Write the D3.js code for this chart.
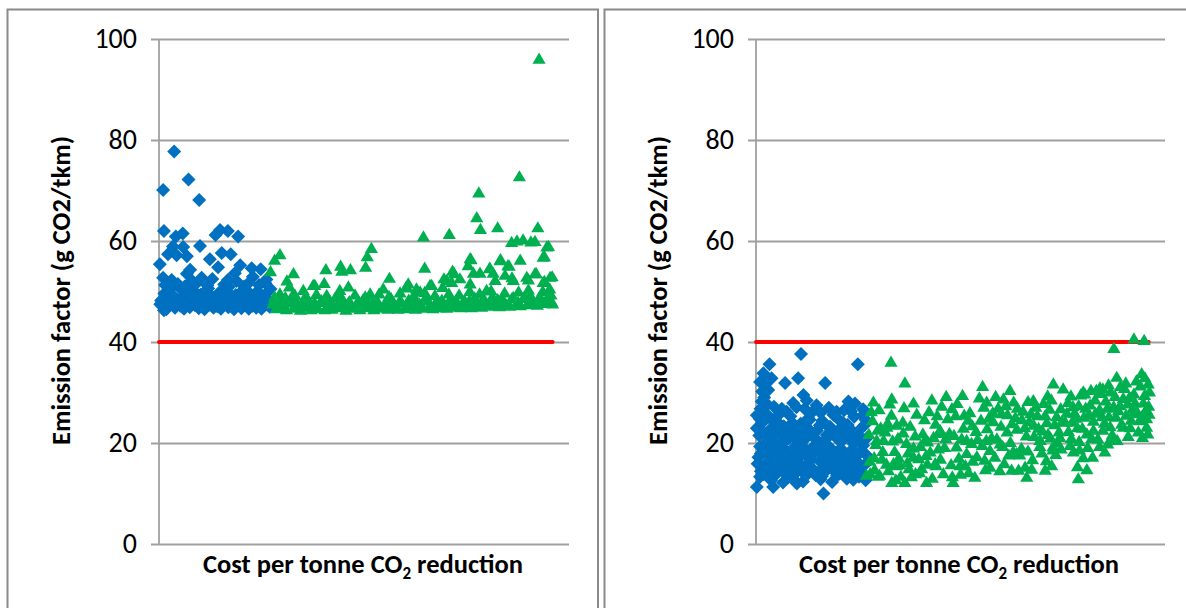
<!DOCTYPE html>
<html>
<head>
<meta charset="utf-8">
<script src="https://cdn.jsdelivr.net/npm/d3@7"></script>
<style>
  html, body { margin: 0; padding: 0; background: #ffffff; }
  svg { display: block; font-family: Carlito, Calibri, Lato, "Open Sans", sans-serif; }
</style>
</head>
<body>
<svg id="chart" width="1186" height="608"></svg>
<script>
// ---- data -------------------------------------------------------------
// y axis ticks (g CO2/tkm) and the 40 g target line
const yTicks = [0, 20, 40, 60, 80, 100];
const threshold = 40;
const thresholdSpan = [0, 96];           // cost range covered by the target line
const costDomain = [0, 100];              // relative cost per tonne CO2 reduction

// Left chart: blue options [cost, emission factor]
const leftDiamonds = [
  [3.7,77.7],[7.2,72.2],[1.0,70.1],[9.8,68.1],[1.2,62.0],[4.1,60.9],[5.8,61.5],[13.8,61.2],
  [14.9,62.2],[16.8,62.0],[19.3,60.9],[3.4,58.9],[5.9,58.8],[10.0,59.0],[2.2,57.4],[4.3,57.2],
  [6.8,57.0],[15.3,57.6],[17.5,57.4],[0.2,55.4],[12.4,56.4],[7.6,54.3],[14.4,54.8],[19.8,55.2],
  [22.6,54.6],[24.8,54.4],[6.8,53.5],[10.4,52.7],[18.5,53.6],[1.0,52.7],[3.1,52.3],[16.8,52.3],
  [22.9,52.9],[25.9,51.7],
  [0.5,48.2],[0.9,47.1],[1.3,49.6],[1.8,46.5],[2.1,48.8],[2.6,50.4],[3.0,47.6],[3.5,49.1],
  [3.9,46.8],[4.4,48.3],[4.8,50.9],[5.2,47.2],[5.7,48.9],[6.1,46.6],[6.6,49.7],[7.0,47.9],
  [7.5,46.9],[7.9,48.6],[8.4,50.2],[8.8,47.3],[9.3,48.1],[9.7,46.7],[10.2,49.4],[10.6,47.8],
  [11.1,46.5],[11.5,48.7],[12.0,50.6],[12.4,47.4],[12.9,49.0],[13.3,46.8],[13.8,48.3],[14.2,47.1],
  [14.7,49.8],[15.1,46.6],[15.6,48.5],[16.0,47.6],[16.5,50.1],[16.9,46.9],[17.4,48.9],[17.8,47.3],
  [18.3,46.5],[18.7,49.3],[19.2,47.7],[19.6,48.4],[20.1,46.7],[20.5,50.3],[21.0,47.5],[21.4,48.8],
  [21.9,46.6],[22.3,49.5],[22.8,47.2],[23.2,48.1],[23.7,46.8],[24.1,50.0],[24.6,47.9],[25.0,46.6],
  [25.5,48.6],[25.9,49.4],[26.4,47.4],[26.8,48.2],[27.2,50.5],
  [1.5,51.3],[2.9,52.0],[4.6,51.5],[6.3,51.0],[8.0,52.2],[9.1,51.6],[11.8,51.2],[13.0,52.5],
  [15.9,51.4],[17.0,50.9],[18.9,52.1],[20.8,51.0],[22.0,51.8],[24.4,51.3],[26.2,52.4],[0.3,47.5],
  [3.3,47.9],[5.9,48.0],[8.6,49.0],[12.6,48.4],[15.4,49.2],[19.9,48.9],[23.5,49.6],[25.3,47.3],
  [27.0,47.0],[1.2,46.3]
];

// Left chart: green options [cost, emission factor]
const leftTriangles = [
  [92.7,96.1],[87.9,72.8],[78.0,69.6],[77.5,64.7],[78.4,62.4],[82.6,62.7],[92.4,62.7],[70.8,61.4],
  [64.5,60.9],[86.0,59.8],[87.3,60.1],[88.8,60.3],[90.7,59.9],[91.7,60.0],[95.0,59.0],[94.0,57.0],
  [88.1,56.3],[83.3,56.4],[76.1,56.4],[80.7,54.7],[85.4,55.1],[95.9,53.0],[92.0,53.6],[86.1,52.8],
  [94.0,52.1],[90.1,52.4],[69.5,52.6],[72.0,53.6],[51.8,58.6],[50.8,57.0],[50.4,54.9],[40.7,54.4],
  [44.3,55.1],[46.7,54.4],[29.5,57.4],[28.2,56.3],[27.2,54.0],[32.8,53.6],[31.2,52.2],[56.2,52.7],
  [64.8,54.7],[60.2,50.8],[69.2,50.9],[31.8,51.0],[40.3,51.7],[38.0,51.3],[44.6,54.1],[66.5,51.3],
  [70.2,52.3],[71.6,54.1],[73.4,52.6],[75.9,56.6],[75.4,55.2],[76.7,53.7],[78.3,53.7],[75.9,51.6],
  [80.6,54.6],[60.8,51.6],[62.8,50.6],[81.5,53.7],[83.2,56.2],[85.1,55.2],[89.7,52.9],[91.7,53.6],
  [93.7,51.9],[95.4,52.9],[94.6,58.9],[93.7,56.9],[86.4,52.3],[84.4,53.3],[82.0,52.3],[79.9,50.3],
  [71.4,51.9],[66.1,51.3],[63.7,50.0],[60.4,51.0],[54.7,50.6],[51.5,49.6],[46.2,51.0],[44.1,50.3],
  [40.9,49.3],[37.6,51.3],[35.2,50.3],[32.8,49.6],[29.5,49.6],
  [27.8,47.6],[28.6,46.7],[29.4,48.5],[30.3,47.1],[31.1,46.5],[32.0,48.0],[32.8,46.8],[33.7,47.5],
  [34.5,46.4],[35.4,48.6],[36.2,47.0],[37.1,46.5],[37.9,47.9],[38.8,46.7],[39.6,48.3],[40.5,46.5],
  [41.3,47.4],[42.2,46.6],[43.0,48.8],[43.9,46.9],[44.7,47.6],[45.6,46.4],[46.4,48.1],[47.3,46.8],
  [48.1,47.3],[49.0,46.5],[49.8,48.5],[50.7,46.9],[51.5,47.6],[52.4,46.5],[53.2,48.2],[54.1,46.8],
  [54.9,47.4],[55.8,46.6],[56.6,48.7],[57.5,47.0],[58.3,46.6],[59.2,47.8],[60.0,46.7],[60.9,48.4],
  [61.7,47.1],[62.6,46.6],[63.4,47.7],[64.3,46.8],[65.1,48.9],[66.0,47.2],[66.8,46.7],[67.7,48.0],
  [68.5,46.9],[69.4,47.5],[70.2,46.8],[71.1,48.6],[71.9,47.0],[72.8,47.7],[73.6,46.9],[74.5,48.3],
  [75.3,47.2],[76.2,46.9],[77.0,48.8],[77.9,47.3],[78.7,47.0],[79.6,48.1],[80.4,47.2],[81.3,49.0],
  [82.1,47.5],[83.0,47.1],[83.8,48.4],[84.7,47.4],[85.5,47.2],[86.4,48.9],[87.2,47.6],[88.1,47.3],
  [88.9,48.7],[89.8,47.5],[90.6,49.2],[91.5,47.8],[92.3,47.4],[93.2,48.6],[94.0,47.7],[94.9,49.0],
  [95.7,48.1],[96.0,47.6],
  [28.2,49.0],[30.8,48.9],[33.2,49.3],[35.9,49.0],[38.4,49.5],[41.0,48.8],[44.3,49.1],[47.8,49.4],
  [50.3,49.0],[53.7,49.6],[56.1,49.1],[58.8,49.8],[62.1,49.2],[64.8,49.9],[67.3,49.3],[70.7,49.6],
  [73.2,49.4],[75.8,50.1],[78.2,49.6],[81.0,50.2],[84.3,49.8],[87.7,50.0],[90.1,50.4],[93.6,50.1],
  [95.3,50.6],
  [28.0,48.2],[29.8,47.3],[31.6,47.8],[33.3,48.1],[35.0,47.4],[36.7,48.0],[38.3,47.2],[40.0,47.9],
  [41.8,48.1],[43.5,47.3],[45.2,47.9],[46.9,47.4],[48.6,48.2],[50.2,47.3],[52.0,48.0],[53.6,47.3],
  [55.4,47.9],[57.0,47.3],[58.8,48.3],[60.5,47.5],[62.2,48.0],[63.9,47.4],[65.6,48.2],[67.3,47.6],
  [69.0,48.4],[70.6,47.6],[72.4,48.2],[74.0,47.7],[75.8,48.4],[77.4,47.9],[79.1,48.6],[80.8,47.9],
  [82.6,48.5],[84.2,48.0],[86.0,48.6],[87.6,48.0],[89.3,48.8],[91.0,48.3],[92.8,48.9],[94.5,48.3],
  [95.6,49.4]
];

// Right chart: blue options [cost, emission factor]
const rightDiamonds = [
  [11.0,37.6],[24.9,35.6],[3.3,35.6],[1.8,33.8],[1.0,32.1],[7.1,31.9],[10.3,32.8],[16.9,31.9],
  [3.0,30.5],[1.4,28.2],[11.6,29.5],[14.8,27.5],[9.1,27.9],[22.6,28.2],[19.7,26.2],[26.2,26.7],
  [7.5,26.2],[0.2,25.5],[0.2,22.9],[3.8,24.6],[12.8,24.9],[18.1,23.2],[1.0,19.3],[1.0,13.3],
  [0.2,11.3],[2.2,14.7],[4.2,11.3],[16.5,10.0],[10.0,12.0],[7.5,21.2],[14.0,21.2],[20.5,22.6],
  [23.8,12.7],[23.0,16.0],[21.9,13.3],[25.2,13.3],[1.2,14.4],
  [2.5,25.8],[5.3,24.1],[8.4,25.3],[10.9,23.8],[13.6,26.0],[16.2,24.4],[18.9,25.6],[21.3,24.0],
  [24.0,25.2],[26.6,23.6],[0.8,21.5],[3.4,22.6],[6.1,21.8],[9.2,22.9],[11.7,21.3],[14.9,22.5],
  [17.3,21.6],[20.0,22.4],[22.8,21.2],[25.5,22.7],[27.1,21.0],[1.9,19.6],[4.6,20.3],[7.0,18.8],
  [10.3,19.9],[12.5,18.5],[15.4,20.2],[18.2,19.0],[21.0,20.4],[23.5,18.7],[26.2,19.5],[0.6,17.2],
  [3.0,16.4],[5.8,17.7],[8.3,16.2],[11.0,17.5],[13.4,16.6],[16.5,17.9],[19.1,16.3],[21.9,17.4],
  [24.6,16.1],[27.0,17.6],[2.2,15.0],[4.9,13.8],[7.6,15.3],[9.8,14.1],[12.2,15.6],[14.6,13.6],
  [17.6,14.9],[20.4,13.9],[23.1,15.2],[25.9,14.0],[3.7,12.6],[6.6,12.2],[9.0,13.0],[11.5,12.4],
  [15.8,12.8],[18.6,12.3],[22.2,12.9],[26.4,13.4],[1.4,23.9],[4.0,18.0],[6.8,23.3],[9.6,17.0],
  [12.0,20.8],[13.1,24.6],[15.0,18.6],[17.9,23.0],[19.6,18.1],[22.4,23.6],[24.3,20.3],[25.1,17.8],
  [26.9,24.5],[3.2,20.8],[8.0,20.9],[10.6,15.9],[14.2,19.4],[16.8,15.2],[20.8,15.8],[23.8,19.9],
  [5.5,14.9],[7.9,13.2],[12.8,14.0],[19.0,14.6],[0.4,15.9],[2.8,27.6],[4.4,27.2],[6.3,26.8],
  [9.9,27.1],[12.4,28.4],[17.8,27.0],[21.5,26.5],[24.2,27.8],[1.5,30.2],[2.0,29.0],
  [0.9,24.8],[2.0,22.0],[3.9,21.4],[5.0,22.9],[6.5,20.0],[7.8,22.2],[9.4,21.0],[10.8,22.0],
  [12.2,23.3],[13.8,22.0],[15.6,23.5],[16.9,20.6],[18.4,22.0],[19.8,20.9],[21.4,21.9],[23.0,22.8],
  [24.6,21.6],[26.0,20.8],[1.2,17.9],[2.6,18.3],[3.8,19.2],[5.2,19.0],[6.2,16.3],[7.4,17.3],
  [8.7,18.6],[10.0,17.6],[11.5,18.9],[12.9,17.2],[14.0,17.8],[15.6,16.4],[17.0,18.8],[18.0,16.9],
  [19.8,17.3],[20.7,18.9],[22.6,16.5],[23.9,17.3],[25.6,18.4],[26.7,15.8],[1.9,13.8],[3.4,14.8],
  [4.8,16.0],[6.4,14.5],[8.6,14.6],[9.6,15.9],[11.2,14.4],[13.6,15.1],[15.2,14.1],[16.1,13.4],
  [18.1,15.8],[19.8,13.6],[21.5,14.8],[22.8,14.0],[24.5,14.3],[26.8,12.6],[25.5,15.7],
  [2.3,31.6],[3.8,32.8],[1.1,26.8],[5.6,25.6],[8.9,24.0],[11.9,26.8],[15.8,26.0],[20.5,24.4],
  [23.2,26.3],[26.0,25.4]
];

// Right chart: green options [cost, emission factor]
const rightTriangles = [
  [92.4,40.7],[94.9,40.4],[87.5,38.8],[33.0,36.1],[36.4,32.0],[55.4,31.3],[88.2,33.1],[94.3,33.8],
  [95.9,31.8],[72.7,31.8],[75.1,30.8],[80.0,30.2],[84.8,30.8],[62.1,30.5],[46.5,29.3],[50.5,29.5],
  [43.0,28.6],[33.2,28.8],[28.7,28.2],[38.5,28.0],[56.4,28.2],[60.5,28.8],[67.8,28.5],[78.8,13.0],
  [78.6,15.4],[80.9,14.8],[85.3,18.3],[82.3,17.3],[94.5,21.2],[95.5,23.2],[87.4,20.9],[77.6,18.3],
  [72.3,15.6],[70.7,14.7],[66.2,13.3],[65.8,15.3],[62.5,14.7],[57.2,15.3],[53.5,13.3],[48.2,12.3],
  [45.8,14.0],[41.7,12.3],[36.4,12.3],[33.2,12.3],[27.9,14.0],[27.0,13.7],[30.2,13.7],[34.4,15.6],
  [38.5,17.3],[40.5,15.0],[43.8,16.0],[49.9,15.6],[29.5,20.6],[34.4,23.6],[32.0,23.2],[41.3,20.6],
  [45.0,22.6],[51.5,20.6],[59.7,19.9],[63.7,18.0],[69.4,20.6],[74.3,21.2],[82.5,22.6],[89.8,23.2],
  [92.2,25.9],[87.4,27.2],[95.4,26.7],[79.1,18.7],[72.6,18.7],[69.4,19.4],[80.4,29.8],[84.1,31.0],
  [28.5,24.5],[29.3,19.8],[30.1,26.7],[30.8,16.9],[31.6,22.3],[32.4,14.6],[33.1,25.6],[33.9,18.4],
  [34.7,21.0],[35.4,13.5],[36.2,27.1],[37.0,16.2],[37.7,23.4],[38.5,19.1],[39.3,25.8],[40.0,14.2],
  [40.8,21.9],[41.6,17.6],[42.3,26.3],[43.1,13.1],[43.9,23.8],[44.6,18.9],[45.4,27.4],[29.0,14.8],
  [31.2,20.6],[33.6,16.0],[35.9,24.2],[38.0,13.4],[39.8,17.0],[42.0,20.3],[44.0,15.6],[27.6,21.8],
  [28.9,17.2],[32.7,27.8],[36.8,20.0],[41.2,24.7],[34.2,12.8],[37.4,15.0],[44.9,22.0],[30.5,23.1],
  [46.1,19.2],[46.9,24.9],[47.7,15.8],[48.4,21.6],[49.2,27.9],[50.0,13.9],[50.7,23.0],[51.5,18.0],
  [52.3,26.1],[53.0,16.5],[53.8,22.4],[54.6,29.0],[55.3,19.6],[56.1,14.8],[56.9,25.0],[57.6,21.1],
  [58.4,17.3],[59.2,27.0],[59.9,23.4],[60.7,16.0],[61.5,25.7],[62.2,20.2],[63.0,28.2],[63.8,22.8],
  [64.5,17.7],[65.3,26.4],[66.1,21.5],[66.8,24.3],[67.6,16.8],[68.4,27.2],[69.1,23.0],[69.9,18.1],
  [70.7,25.5],[71.4,21.8],[72.2,28.6],[73.0,23.7],[73.7,20.1],[74.5,26.9],[47.3,22.0],[49.6,17.1],
  [51.9,24.6],[54.2,20.8],[55.7,27.2],[58.0,24.3],[60.3,19.4],[62.6,23.9],[64.9,19.0],[67.2,25.9],
  [69.5,20.6],[71.8,26.8],[74.1,22.3],[48.8,25.5],[52.7,20.0],[57.2,18.6],[61.1,27.5],[65.7,23.1],
  [70.3,27.9],[73.3,17.8],[50.3,20.9],[56.5,22.9],[63.4,25.1],[68.0,21.4],[72.6,19.3],
  [75.6,24.2],[76.3,28.1],[77.1,21.0],[77.9,26.0],[78.6,23.1],[79.4,29.6],[80.2,25.2],[80.9,21.9],
  [81.7,27.6],[82.5,24.4],[83.2,30.5],[84.0,26.7],[84.8,22.6],[85.5,28.4],[86.3,25.3],[87.1,21.7],
  [87.8,29.3],[88.6,26.5],[89.4,23.8],[90.1,30.9],[90.9,27.8],[91.7,24.6],[92.4,29.8],[93.2,26.2],
  [94.0,31.4],[94.7,28.0],[95.5,24.9],[96.2,30.2],[76.8,19.6],[79.0,20.4],[81.1,19.2],[83.6,20.9],
  [86.0,19.9],[88.3,20.6],[91.0,21.4],[93.5,22.3],[95.8,21.9],[78.2,25.0],[80.6,27.0],[82.9,28.6],
  [85.2,24.0],[87.5,27.2],[89.8,28.9],[92.1,26.9],[94.4,25.4],[96.0,27.4],[77.5,27.3],[84.4,29.9],
  [89.1,31.3],[93.0,32.4],[95.1,33.0],[91.3,29.1],[86.7,30.2],
  [28.2,26.3],[29.7,22.6],[31.0,18.4],[32.2,24.0],[33.4,20.5],[34.9,17.1],[36.0,22.1],[37.2,18.1],
  [38.9,21.5],[40.2,19.4],[41.9,15.9],[43.4,21.2],[44.3,25.5],[45.1,16.9],[27.8,16.5],[29.9,13.5],
  [31.9,15.9],[35.1,15.8],[39.0,14.0],[42.6,18.3],
  [46.4,21.0],[47.9,26.9],[49.0,19.3],[50.9,25.6],[51.2,15.6],[52.9,23.5],[54.0,17.4],[55.0,24.6],
  [56.3,20.6],[57.9,26.1],[58.9,20.9],[60.0,25.9],[61.4,22.3],[62.9,18.4],[63.9,27.0],[65.0,24.7],
  [66.5,18.5],[67.9,23.6],[68.8,25.5],[70.0,22.5],[71.1,24.1],[72.0,21.1],[73.5,25.3],[74.8,24.3],
  [48.0,13.4],[52.0,14.2],[55.9,16.7],[59.6,14.6],[61.8,17.7],[64.2,14.7],[67.4,14.9],[71.0,16.6],
  [74.6,18.9],[58.6,29.3],[66.5,28.3],[71.3,29.4],
  [76.0,26.0],[77.3,24.2],[78.9,27.5],[79.8,23.0],[81.4,25.6],[82.1,21.0],[83.0,26.0],[84.6,25.3],
  [85.9,27.0],[86.6,23.3],[88.0,25.2],[89.0,27.5],[90.5,25.6],[91.5,23.1],[92.7,28.0],[93.8,24.5],
  [95.0,29.5],[96.1,25.8],[90.4,32.0],[86.2,31.6],[81.9,30.5],[77.0,29.4],[76.4,22.4],[80.0,17.2],
  [84.0,19.4]
];

// ---- drawing ----------------------------------------------------------
const COLORS = { blue: "#0070C0", green: "#00B050", red: "#FF0000", grid: "#a0a0a0", frame: "#8a8a8a" };

const svg = d3.select("#chart");

const diamondPath = "M0,-7L7,0L0,7L-7,0Z";
const trianglePath = "M0,-6.2L6.6,5L-6.6,5Z";

function drawPanel(opts) {
  const { frame, plot, diamonds, triangles, titleX } = opts;

  // chart frame
  svg.append("rect")
    .attr("x", frame.x).attr("y", frame.y)
    .attr("width", frame.w).attr("height", frame.h)
    .attr("fill", "#ffffff")
    .attr("stroke", COLORS.frame)
    .attr("stroke-width", 2);

  const x = d3.scaleLinear().domain(costDomain).range([plot.left, plot.right]);
  const y = d3.scaleLinear().domain([0, 100]).range([plot.bottom, plot.top]);

  // gridlines + tick labels
  const axis = d3.axisLeft(y)
    .tickValues(yTicks)
    .tickSize(-(plot.right - plot.left + 8))
    .tickPadding(14)
    .tickFormat(d3.format("d"));

  const gAxis = svg.append("g")
    .attr("transform", `translate(${plot.left - 8},0)`)
    .call(axis);
  gAxis.select(".domain").remove();
  gAxis.selectAll(".tick line")
    .attr("stroke", COLORS.grid)
    .attr("stroke-width", 1.8);
  gAxis.selectAll(".tick text")
    .attr("fill", "#000")
    .style("font-size", "28px")
    .style("font-family", "Carlito, Calibri, Lato, sans-serif");

  // vertical axis line
  svg.append("line")
    .attr("x1", plot.left).attr("x2", plot.left)
    .attr("y1", y(100)).attr("y2", y(0))
    .attr("stroke", COLORS.grid)
    .attr("stroke-width", 1.8);

  // target line
  svg.append("line")
    .attr("x1", x(thresholdSpan[0])).attr("x2", x(thresholdSpan[1]))
    .attr("y1", y(threshold)).attr("y2", y(threshold))
    .attr("stroke", COLORS.red)
    .attr("stroke-width", 4)
    .attr("stroke-linecap", "round");

  // blue options
  svg.append("g").selectAll("path")
    .data(diamonds)
    .join("path")
    .attr("d", diamondPath)
    .attr("transform", d => `translate(${x(d[0])},${y(d[1])})`)
    .attr("fill", COLORS.blue);

  // green options
  svg.append("g").selectAll("path")
    .data(triangles)
    .join("path")
    .attr("d", trianglePath)
    .attr("transform", d => `translate(${x(d[0])},${y(d[1])})`)
    .attr("fill", COLORS.green);

  // y axis title
  svg.append("text")
    .attr("transform", `translate(${opts.yTitleX},${(plot.top + plot.bottom) / 2 - 1}) rotate(-90)`)
    .attr("text-anchor", "middle")
    .attr("dominant-baseline", "central")
    .style("font-size", "26.5px")
    .style("font-weight", "bold")
    .text("Emission factor (g CO2/tkm)");

  // x axis title with subscript
  const t = svg.append("text")
    .attr("x", titleX).attr("y", 573)
    .attr("text-anchor", "middle")
    .style("font-size", "26.5px")
    .style("font-weight", "bold");
  t.append("tspan").text("Cost per tonne CO");
  t.append("tspan").attr("dy", 6).style("font-size", "17px").text("2");
  t.append("tspan").attr("dy", -6).text(" reduction");
}

drawPanel({
  frame: { x: 7.5, y: 9.5, w: 590.5, h: 620 },
  plot: { left: 159, right: 569, top: 39, bottom: 544 },
  diamonds: leftDiamonds,
  triangles: leftTriangles,
  yTitleX: 61,
  titleX: 363
});

drawPanel({
  frame: { x: 604.5, y: 9.5, w: 600, h: 620 },
  plot: { left: 756, right: 1165, top: 39, bottom: 544 },
  diamonds: rightDiamonds,
  triangles: rightTriangles,
  yTitleX: 658,
  titleX: 959
});
</script>
</body>
</html>
